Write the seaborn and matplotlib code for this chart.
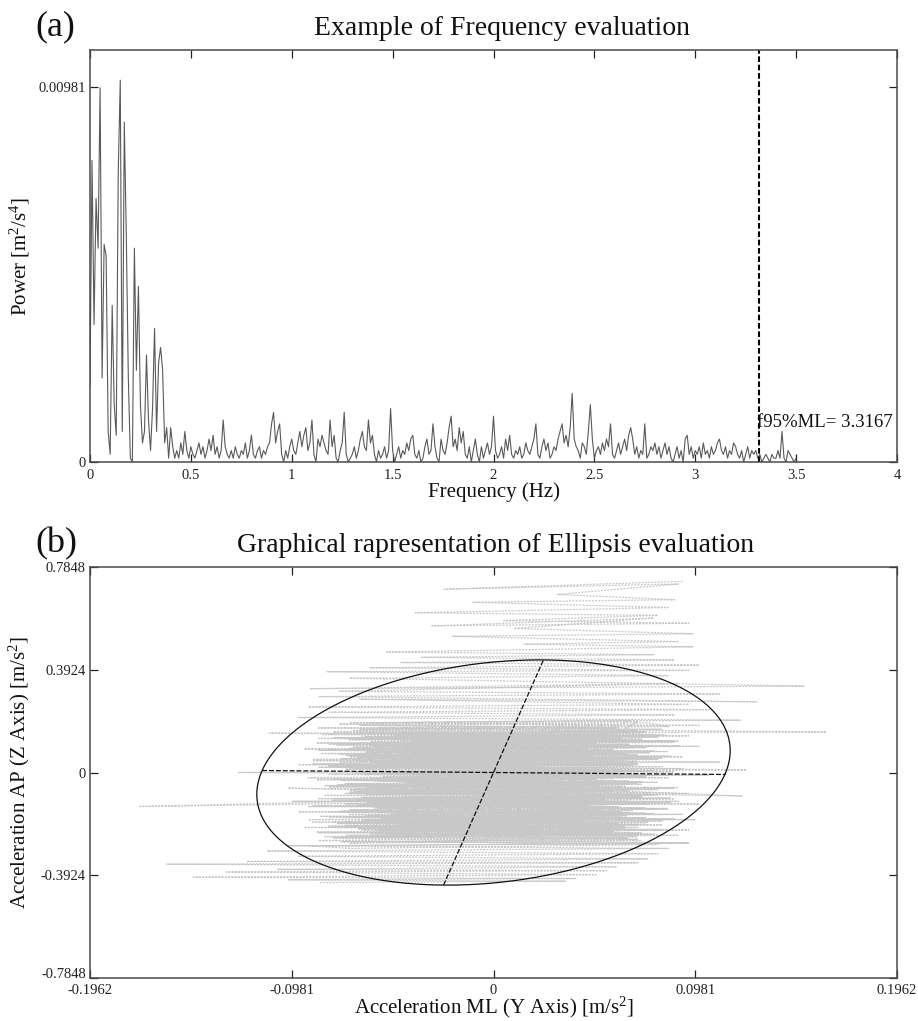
import numpy as np
import pandas as pd
import matplotlib
matplotlib.use("Agg")
import matplotlib.pyplot as plt
import seaborn as sns

sns.set_style("ticks")
plt.rcParams["font.family"] = ["Liberation Serif", "DejaVu Serif"]
plt.rcParams["mathtext.fontset"] = "custom"
plt.rcParams["mathtext.rm"] = "Liberation Serif"
plt.rcParams["mathtext.it"] = "Liberation Serif:italic"
plt.rcParams["mathtext.default"] = "regular"

# ---------------- data: (a) frequency evaluation ----------------
freq_step_hz = 0.01
# power spectrum, in units of 1e-4 m^2/s^4, one value per 0.01 Hz from 0.00 to 3.50 Hz
power_1e4 = [
    20, 79, 36, 69, 56, 98, 22, 57, 54, 8,
    2, 41, 15, 7, 76, 100, 8, 89, 59, 22,
    1, 0, 56, 24, 46, 15, 5, 8, 28, 11,
    3, 14, 35, 8, 26, 30, 24, 5, 9, 1,
    9, 4, 1, 3, 1, 5, 2, 8, 3, 1,
    4, 2, 1, 3, 5, 2, 4, 1, 3, 6,
    3, 7, 2, 4, 1, 3, 11, 4, 2, 1,
    3, 1, 4, 2, 1, 3, 2, 5, 1, 3,
    7, 2, 1, 3, 4, 1, 3, 2, 4, 5,
    10, 13, 5, 8, 10, 2, 0, 3, 1, 4,
    6, 3, 2, 5, 8, 4, 7, 9, 3, 5,
    11, 2, 0, 6, 4, 7, 5, 3, 2, 11,
    4, 7, 1, 0, 3, 5, 13, 2, 0, 1,
    2, 4, 1, 3, 6, 8, 4, 3, 11, 5,
    7, 2, 0, 3, 1, 2, 4, 1, 3, 14,
    3, 0, 2, 4, 1, 3, 2, 5, 3, 6,
    7, 2, 1, 3, 0, 1, 4, 6, 2, 3,
    10, 4, 1, 0, 6, 3, 2, 5, 9, 12,
    4, 6, 3, 9, 5, 8, 2, 1, 4, 0,
    3, 6, 2, 0, 4, 1, 3, 5, 2, 4,
    12, 3, 1, 2, 4, 1, 6, 3, 7, 2,
    1, 3, 2, 4, 1, 2, 5, 3, 2, 4,
    6, 10, 2, 1, 4, 6, 3, 5, 1, 2,
    4, 3, 6, 8, 10, 5, 7, 4, 9, 18,
    6, 4, 3, 1, 5, 4, 2, 8, 15, 6,
    1, 3, 4, 2, 5, 3, 6, 4, 10, 2,
    1, 3, 5, 2, 4, 6, 3, 7, 9, 6,
    2, 4, 1, 3, 2, 10, 1, 2, 4, 3,
    5, 2, 4, 1, 3, 5, 2, 4, 1, 0,
    2, 4, 1, 3, 0, 6, 7, 2, 4, 1,
    3, 2, 4, 1, 5, 2, 3, 1, 4, 2,
    3, 5, 6, 3, 2, 4, 1, 3, 2, 5,
    4, 2, 1, 3, 0, 2, 4, 1, 3, 2,
    3, 1, 2, 0, 1, 2, 1, 0, 2, 1,
    1, 3, 1, 8, 1, 0, 3, 2, 1, 0,
    1,
]
f95_ml_hz = 3.3167
f95_label = "f95%ML= 3.3167"
freq_ticks = [0, 0.5, 1, 1.5, 2, 2.5, 3, 3.5, 4]
freq_tick_labels = ["0", "0.5", "1", "1.5", "2", "2.5", "3", "3.5", "4"]
power_ticks = [0, 0.00981]
power_tick_labels = ["0", "0.00981"]

# ---------------- data: (b) ML / AP acceleration trajectory (turning points) ----------------
ml_top = [0.092, -0.024, 0.090, 0.031, 0.088, -0.010, 0.085, -0.038, 0.080, 0.005,
          0.095, -0.030, 0.078, 0.010, 0.097, -0.020, 0.090, 0.015, 0.097, -0.052,
          0.078, -0.035, 0.088, -0.045]
ap_top = [0.73, 0.70, 0.72, 0.68, 0.66, 0.65, 0.63, 0.61, 0.60, 0.58,
          0.57, 0.56, 0.59, 0.55, 0.53, 0.52, 0.50, 0.49, 0.48, 0.46,
          0.45, 0.44, 0.43, 0.42]
ml_ring_up = [0.100, -0.060, 0.095, -0.081, 0.085, -0.070, 0.151, -0.089, 0.090, -0.075,
              0.110, -0.085, 0.128, -0.065, 0.095, -0.090, 0.105, -0.080, 0.088, -0.095,
              0.120, -0.070, 0.100, -0.085]
ap_ring_up = [0.41, 0.40, 0.39, 0.385, 0.37, 0.36, 0.33, 0.32, 0.34, 0.31,
              0.30, 0.29, 0.27, 0.28, 0.26, 0.25, 0.24, 0.23, 0.22, 0.21,
              0.20, 0.19, 0.18, 0.17]
ml_core1 = [0.162, -0.109, 0.095, -0.085, 0.090, -0.080, 0.100, -0.092, 0.085, -0.075,
            0.092, -0.088, 0.110, -0.095, 0.123, -0.124, 0.105, -0.090, 0.121, -0.100,
            0.095, -0.172, 0.088, -0.098, 0.100, -0.090, 0.085, -0.095, 0.092, -0.080,
            0.098, -0.088, 0.082, -0.092, 0.095, -0.085, 0.090, -0.078, 0.095, -0.090]
ap_core1 = [0.155, 0.150, 0.14, 0.13, 0.12, 0.11, 0.10, 0.09, 0.08, 0.07,
            0.06, 0.05, 0.04, 0.03, 0.01, 0.00, -0.01, -0.02, -0.09, -0.06,
            -0.08, -0.13, -0.10, -0.11, -0.12, -0.13, -0.14, -0.15, -0.16, -0.17,
            -0.18, -0.19, -0.20, -0.21, -0.22, -0.23, -0.24, -0.25, -0.27, -0.28]
ml_core2 = [-0.070, 0.080, -0.085, 0.070, -0.060, 0.085, -0.080, 0.075, -0.090, 0.065,
            -0.075, 0.080, -0.065, 0.090, -0.085, 0.078, -0.070, 0.088, -0.082, 0.072,
            -0.078, 0.085, -0.068, 0.092, -0.080, 0.070, -0.088, 0.082, -0.072, 0.076,
            -0.085, 0.068, -0.076, 0.088, -0.070, 0.080, -0.083, 0.074, -0.065, 0.085]
ap_core2 = [-0.29, -0.275, -0.26, -0.245, -0.23, -0.22, -0.205, -0.19, -0.18, -0.165,
            -0.15, -0.14, -0.125, -0.11, -0.10, -0.085, -0.075, -0.06, -0.05, -0.035,
            -0.025, -0.01, 0.00, 0.015, 0.025, 0.035, 0.045, 0.055, 0.065, 0.075,
            0.085, 0.095, 0.105, 0.115, 0.125, 0.135, 0.145, 0.155, 0.165, 0.175]
ml_core3 = [0.075, -0.065, 0.082, -0.078, 0.068, -0.072, 0.088, -0.060, 0.074, -0.082,
            0.065, -0.070, 0.080, -0.075, 0.070, -0.085, 0.078, -0.062, 0.085, -0.074,
            0.066, -0.080, 0.080, -0.068, 0.072, -0.078, 0.086, -0.066, 0.074, -0.080,
            0.068, -0.072, 0.082, -0.076, 0.070, -0.064, 0.078, -0.082, 0.072, -0.070]
ap_core3 = [0.19, 0.18, 0.165, 0.155, 0.14, 0.13, 0.12, 0.105, 0.095, 0.085,
            0.07, 0.06, 0.05, 0.04, 0.03, 0.02, 0.005, -0.005, -0.02, -0.03,
            -0.045, -0.055, -0.065, -0.08, -0.09, -0.10, -0.115, -0.125, -0.135, -0.15,
            -0.16, -0.17, -0.185, -0.195, -0.21, -0.22, -0.235, -0.245, -0.26, -0.27]
ml_core4 = [-0.060, 0.065, -0.072, 0.058, -0.066, 0.070, -0.055, 0.062, -0.070, 0.068,
            -0.058, 0.075, -0.064, 0.060, -0.072, 0.066, -0.060, 0.072, -0.068, 0.058,
            -0.062, 0.070, -0.074, 0.064, -0.058, 0.068, -0.066, 0.060, -0.070, 0.072,
            -0.062, 0.066, -0.068, 0.060, -0.064, 0.070, -0.056, 0.062, -0.060, 0.066]
ap_core4 = [-0.265, -0.25, -0.24, -0.225, -0.21, -0.2, -0.185, -0.175, -0.16, -0.145,
            -0.135, -0.12, -0.11, -0.095, -0.08, -0.07, -0.055, -0.045, -0.03, -0.02,
            -0.005, 0.005, 0.02, 0.03, 0.045, 0.055, 0.07, 0.08, 0.09, 0.10,
            0.11, 0.12, 0.13, 0.14, 0.15, 0.16, 0.17, 0.18, 0.19, 0.20]
ml_core6 = [0.055, -0.048, 0.062, -0.040, 0.050, -0.058, 0.045, -0.052, 0.060, -0.044,
            0.048, -0.060, 0.056, -0.046, 0.064, -0.050, 0.042, -0.056, 0.058, -0.042,
            0.052, -0.062, 0.046, -0.048, 0.060, -0.054, 0.044, -0.058, 0.054, -0.046,
            0.062, -0.050, 0.048, -0.060, 0.056, -0.044, 0.050, -0.056, 0.058, -0.048]
ap_core6 = [0.15, 0.14, 0.13, 0.12, 0.11, 0.10, 0.09, 0.08, 0.07, 0.06,
            0.05, 0.04, 0.03, 0.02, 0.01, 0.0, -0.01, -0.02, -0.03, -0.04,
            -0.05, -0.06, -0.07, -0.08, -0.09, -0.10, -0.11, -0.12, -0.13, -0.14,
            -0.15, -0.16, -0.17, -0.18, -0.19, -0.20, -0.21, -0.22, -0.23, -0.24]
ml_core7 = [-0.052, 0.058, -0.046, 0.050, -0.060, 0.044, -0.054, 0.062, -0.048, 0.052,
            -0.056, 0.046, -0.062, 0.054, -0.044, 0.060, -0.050, 0.048, -0.058, 0.056,
            -0.046, 0.050, -0.054, 0.062, -0.060, 0.044, -0.048, 0.058, -0.052, 0.046,
            -0.056, 0.054, -0.044, 0.060, -0.058, 0.050, -0.046, 0.056, -0.050, 0.048]
ap_core7 = [-0.235, -0.225, -0.215, -0.205, -0.195, -0.185, -0.175, -0.165, -0.155, -0.145,
            -0.135, -0.125, -0.115, -0.105, -0.095, -0.085, -0.075, -0.065, -0.055, -0.045,
            -0.035, -0.025, -0.015, -0.005, 0.005, 0.015, 0.025, 0.035, 0.045, 0.055,
            0.065, 0.075, 0.085, 0.095, 0.105, 0.115, 0.125, 0.135, 0.145, 0.155]
ml_core8 = [0.084, -0.078, 0.072, -0.086, 0.090, -0.070, 0.078, -0.084, 0.086, -0.074,
            0.070, -0.088, 0.082, -0.072, 0.088, -0.080, 0.074, -0.086, 0.080, -0.076,
            0.090, -0.070, 0.076, -0.082, 0.086, -0.078, 0.072, -0.088, 0.084, -0.074,
            0.078, -0.084, 0.088, -0.072, 0.074, -0.080, 0.082, -0.086, 0.070, -0.076]
ap_core8 = [0.1425, 0.1325, 0.1225, 0.1125, 0.1025, 0.0925, 0.0825, 0.0725, 0.0625, 0.0525,
            0.0425, 0.0325, 0.0225, 0.0125, 0.0025, -0.0075, -0.0175, -0.0275, -0.0375, -0.0475,
            -0.0575, -0.0675, -0.0775, -0.0875, -0.0975, -0.1075, -0.1175, -0.1275, -0.1375, -0.1475,
            -0.1575, -0.1675, -0.1775, -0.1875, -0.1975, -0.2075, -0.2175, -0.2275, -0.2375, -0.2475]
ml_core9 = [-0.066, 0.070, -0.058, 0.064, -0.072, 0.060, -0.064, 0.074, -0.060, 0.066,
            -0.070, 0.062, -0.056, 0.068, -0.066, 0.072, -0.062, 0.058, -0.068, 0.064,
            -0.072, 0.066, -0.060, 0.070, -0.064, 0.060, -0.070, 0.068, -0.058, 0.064,
            -0.066, 0.070, -0.062, 0.058, -0.068, 0.066, -0.060, 0.072, -0.064, 0.060]
ap_core9 = [-0.2425, -0.2325, -0.2225, -0.2125, -0.2025, -0.1925, -0.1825, -0.1725, -0.1625, -0.1525,
            -0.1425, -0.1325, -0.1225, -0.1125, -0.1025, -0.0925, -0.0825, -0.0725, -0.0625, -0.0525,
            -0.0425, -0.0325, -0.0225, -0.0125, -0.0025, 0.0075, 0.0175, 0.0275, 0.0375, 0.0475,
            0.0575, 0.0675, 0.0775, 0.0875, 0.0975, 0.1075, 0.1175, 0.1275, 0.1375, 0.1475]
ml_core5 = [0.070, -0.075, 0.060, -0.068, 0.078, -0.062, 0.066, -0.080, 0.072, -0.058,
            0.064, -0.070, 0.076, -0.066, 0.058, -0.072, 0.068, -0.064, 0.074, -0.060,
            0.070, -0.076, 0.062, -0.068, 0.080, -0.064, 0.066, -0.072, 0.060, -0.070,
            0.074, -0.062, 0.068, -0.078, 0.064, -0.066, 0.072, -0.060, 0.070, -0.074]
ap_core5 = [0.195, 0.185, 0.17, 0.16, 0.145, 0.135, 0.125, 0.11, 0.10, 0.09,
            0.075, 0.065, 0.055, 0.045, 0.035, 0.025, 0.01, 0.0, -0.015, -0.025,
            -0.04, -0.05, -0.06, -0.075, -0.085, -0.095, -0.11, -0.12, -0.13, -0.145,
            -0.155, -0.165, -0.18, -0.19, -0.205, -0.215, -0.23, -0.24, -0.255, -0.265]
ml_bottom = [0.095, -0.100, 0.085, -0.110, 0.080, -0.095, 0.075, -0.120, 0.070, -0.159,
             0.060, -0.105, 0.055, -0.130, 0.050, -0.146, 0.040, -0.100, 0.035, -0.085]
ap_bottom = [-0.27, -0.28, -0.29, -0.30, -0.31, -0.32, -0.33, -0.34, -0.345, -0.35,
             -0.36, -0.37, -0.375, -0.38, -0.39, -0.40, -0.405, -0.41, -0.415, -0.42]

ellipse_center = (0.0, 0.0)
ellipse_semi_u = (0.1125, -0.0075)   # horizontal semi-diameter
ellipse_semi_v = (0.0243, 0.43)      # tilted conjugate semi-diameter

ml_ticks = [-0.1962, -0.0981, 0, 0.0981, 0.1962]
ml_tick_labels = ["-0.1962", "-0.0981", "0", "0.0981", "0.1962"]
ap_ticks = [-0.7848, -0.3924, 0, 0.3924, 0.7848]
ap_tick_labels = ["-0.7848", "-0.3924", "0", "0.3924", "0.7848"]

# ---------------- figure ----------------
W, H = 918, 1021
fig = plt.figure(figsize=(W / 100, H / 100), dpi=100)
fig.patch.set_facecolor("white")

def px_axes(l, t, r, b):
    return fig.add_axes([l / W, 1 - b / H, (r - l) / W, (b - t) / H])

ax1 = px_axes(90, 50, 897, 462)
ax2 = px_axes(90, 567, 897, 978)

frame_col = "#4a4a4a"
for ax in (ax1, ax2):
    ax.set_facecolor("white")
    for s in ax.spines.values():
        s.set_color(frame_col)
        s.set_linewidth(1.1)
    ax.tick_params(direction="in", top=True, right=True, length=6, width=0.9,
                   color="#222222", labelsize=10.5, labelcolor="#222222")

# (a) spectrum
spec = pd.DataFrame({
    "freq": np.arange(len(power_1e4)) * freq_step_hz,
    "power": np.array(power_1e4, dtype=float) * 1e-4,
})
sns.lineplot(data=spec, x="freq", y="power", ax=ax1, sort=False, estimator=None,
             color="#5a5a5a", linewidth=0.8)
ax1.axvline(f95_ml_hz, color="black", linewidth=1.5, linestyle=(0, (2.7, 1.3)))
ax1.text(f95_ml_hz - 0.01, 0.00092, f95_label, fontsize=13.5, ha="left",
         va="baseline", color="#111111")
ax1.set_xlim(0, 4)
ax1.set_ylim(0, 0.00981 * 1.1)
ax1.set_xticks(freq_ticks)
ax1.set_xticklabels(freq_tick_labels)
ax1.set_yticks(power_ticks)
ax1.set_yticklabels(power_tick_labels)
ax1.tick_params(axis="x", pad=5)
ax1.tick_params(axis="y", pad=3)
ax1.set_xlabel("Frequency (Hz)", fontsize=15, color="#111111")
ax1.set_ylabel("Power [m$^{2}$/s$^{4}$]", fontsize=15, color="#111111")
ax1.xaxis.set_label_coords(0.5, -0.05)
ax1.yaxis.set_label_coords(-0.072, 0.5)

# (b) ellipse evaluation
segments = [(ml_top, ap_top), (ml_ring_up, ap_ring_up), (ml_core1, ap_core1),
            (ml_core2, ap_core2), (ml_core3, ap_core3), (ml_core4, ap_core4),
            (ml_core6, ap_core6), (ml_core7, ap_core7), (ml_core8, ap_core8),
            (ml_core9, ap_core9), (ml_core5, ap_core5), (ml_bottom, ap_bottom)]
traj = pd.DataFrame({
    "ml": np.concatenate([np.array(m) for m, _ in segments]),
    "ap": np.concatenate([np.array(a) for _, a in segments]),
})
sns.lineplot(data=traj, x="ml", y="ap", ax=ax2, sort=False, estimator=None,
             color="#c8c8c8", linewidth=0.9, linestyle=(0, (1.6, 1.0)))

t = np.linspace(0, 2 * np.pi, 400)
cx, cy = ellipse_center
ux, uy = ellipse_semi_u
vx, vy = ellipse_semi_v
ax2.plot(cx + ux * np.cos(t) + vx * np.sin(t), cy + uy * np.cos(t) + vy * np.sin(t),
         color="#111111", linewidth=0.9)
ax2.plot([cx - ux, cx + ux], [cy - uy, cy + uy], color="#111111", linewidth=0.9,
         linestyle=(0, (4, 1.5)))
ax2.plot([cx - vx, cx + vx], [cy - vy, cy + vy], color="#111111", linewidth=0.9,
         linestyle=(0, (4, 1.5)))

ax2.set_xlim(-0.1962, 0.1962)
ax2.set_ylim(-0.7848, 0.7848)
ax2.set_xticks(ml_ticks)
ax2.set_xticklabels(ml_tick_labels)
ax2.set_yticks(ap_ticks)
ax2.set_yticklabels(ap_tick_labels)
ax2.tick_params(axis="x", pad=4)
ax2.tick_params(axis="y", pad=3)
ax2.get_yticklabels()[0].set_va("baseline")
ax2.set_xlabel("Acceleration ML (Y Axis) [m/s$^{2}$]", fontsize=15, color="#111111")
ax2.set_ylabel("Acceleration AP (Z Axis) [m/s$^{2}$]", fontsize=15, color="#111111")
ax2.xaxis.set_label_coords(0.5, -0.042)
ax2.yaxis.set_label_coords(-0.072, 0.5)

# titles and panel letters
fig.text(502 / W, 1 - 35 / H, "Example of Frequency evaluation", fontsize=20,
         ha="center", va="baseline", color="#111111")
fig.text(496 / W, 1 - 552 / H, "Graphical rapresentation of Ellipsis evaluation",
         fontsize=20, ha="center", va="baseline", color="#111111")
fig.text(35 / W, 1 - 35 / H, "(a)", fontsize=26, ha="left", va="baseline", color="#111111")
fig.text(35 / W, 1 - 552 / H, "(b)", fontsize=26, ha="left", va="baseline", color="#111111")

fig.savefig("out.png", dpi=100, facecolor="white")
